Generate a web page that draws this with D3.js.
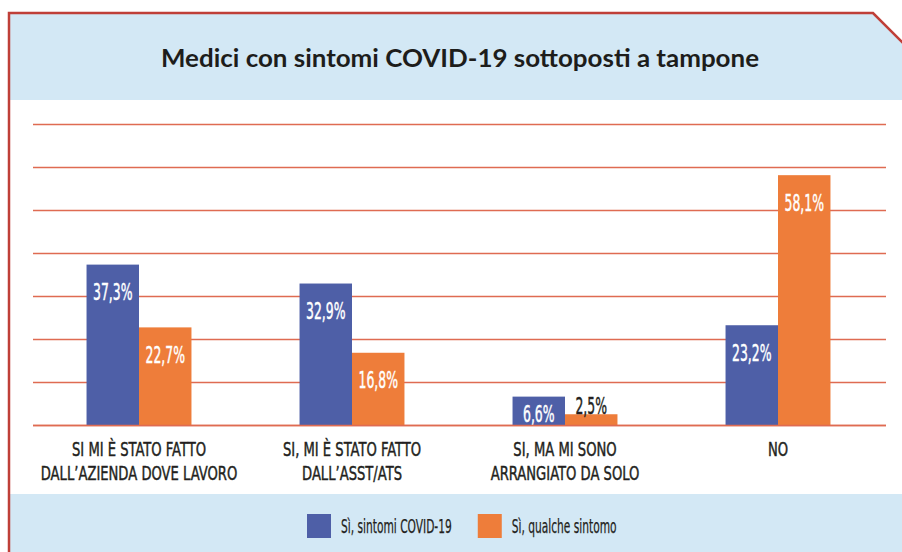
<!DOCTYPE html>
<html>
<head>
<meta charset="utf-8">
<script src="https://cdn.jsdelivr.net/npm/d3@7"></script>
<style>
  html, body { margin: 0; padding: 0; background: #ffffff; }
  svg { display: block; }
</style>
</head>
<body>
<svg id="chart" width="902" height="552"></svg>
<script>
// ---- data ----
const title = "Medici con sintomi COVID-19 sottoposti a tampone";
const categories = ["azienda", "asst", "solo", "no"];
const categoryLabels = [
  ["SI MI È STATO FATTO", "DALL’AZIENDA DOVE LAVORO"],
  ["SI, MI È STATO FATTO", "DALL’ASST/ATS"],
  ["SI, MA MI SONO", "ARRANGIATO DA SOLO"],
  ["NO"]
];
const seriesNames = ["Sì, sintomi COVID-19", "Sì, qualche sintomo"];
const covidValues = [37.3, 32.9, 6.6, 23.2];
const someSymptomValues = [22.7, 16.8, 2.5, 58.1];
const yTicks = [0, 10, 20, 30, 40, 50, 60, 70];

// ---- styles ----
const colors = ["#4e5fa7", "#ee7d3a"];
const lightBlue = "#d3e8f5";
const borderRed = "#bf3f38";
const gridColor = "#df6b52";
const condFont = "'Liberation Sans Narrow', 'DejaVu Sans Condensed', 'Roboto Condensed', 'Arial Narrow', sans-serif";

const svg = d3.select("#chart");
const W = 902, H = 552;

// backgrounds
svg.append("rect").attr("x", 0).attr("y", 0).attr("width", W).attr("height", H).attr("fill", "#ffffff");
svg.append("path")
  .attr("d", "M9,13 L873,13 L902,42 L902,100 L9,100 Z")
  .attr("fill", lightBlue);
svg.append("rect").attr("x", 9).attr("y", 494).attr("width", W - 9).attr("height", H - 494).attr("fill", lightBlue);

// border
svg.append("path")
  .attr("d", "M9,552 L9,13 L873,13 L903,43")
  .attr("fill", "none").attr("stroke", borderRed).attr("stroke-width", 2.5);

// title
svg.append("text")
  .attr("x", 460).attr("y", 67)
  .attr("text-anchor", "middle")
  .attr("font-family", "Lato, 'Open Sans', sans-serif")
  .attr("font-weight", 700)
  .attr("font-size", 24)
  .attr("fill", "#1d1d1b")
  .attr("textLength", 598)
  .attr("lengthAdjust", "spacingAndGlyphs")
  .text(title);

// scales
const x0 = d3.scaleBand().domain(categories).range([32.5, 884.5]).padding(0);
const x1 = d3.scaleBand().domain([0, 1]).range([0, x0.bandwidth()]).paddingInner(0).paddingOuter(1.03);
const y = d3.scaleLinear().domain([0, 70]).range([425, 124]);

// gridlines
const grid = svg.append("g").attr("transform", "translate(33,0)")
  .call(d3.axisLeft(y).tickValues(yTicks).tickSize(-853).tickFormat(""));
grid.select(".domain").remove();
grid.selectAll(".tick line").attr("stroke", gridColor).attr("stroke-width", 1.6);

// helper to condense text horizontally; returns final lengths
function condense(sel, factor) {
  const out = [];
  sel.each(function () {
    const len = this.getComputedTextLength();
    if (len > 0) {
      d3.select(this).attr("textLength", len * factor).attr("lengthAdjust", "spacingAndGlyphs");
    }
    out.push(len * factor);
  });
  return out;
}

// bars
const rows = categories.map((c, i) => ({ cat: c, vals: [covidValues[i], someSymptomValues[i]] }));
const fmt = v => d3.format(".1f")(v).replace(".", ",") + "%";

const groups = svg.append("g").selectAll("g").data(rows).join("g")
  .attr("transform", d => `translate(${x0(d.cat)},0)`);

groups.selectAll("rect").data(d => d.vals.map((v, s) => ({ v, s }))).join("rect")
  .attr("x", d => x1(d.s))
  .attr("y", d => y(d.v))
  .attr("width", x1.bandwidth())
  .attr("height", d => y(0) - y(d.v))
  .attr("fill", d => colors[d.s]);

const valueLabels = groups.selectAll("text.val").data(d => d.vals.map((v, s) => ({ v, s }))).join("text")
  .attr("class", "val")
  .attr("x", d => x1(d.s) + x1.bandwidth() / 2)
  .attr("y", d => {
    const h = y(0) - y(d.v);
    if (h >= 40) return y(d.v) + 35.5;
    if (h >= 22) return y(0) - 3;
    return y(d.v) - 0.5;
  })
  .attr("text-anchor", "middle")
  .attr("font-family", condFont)
  .attr("font-size", 23)
  .attr("fill", d => (y(0) - y(d.v) >= 22 ? "#ffffff" : "#231f20"))
  .attr("stroke", d => (y(0) - y(d.v) >= 22 ? "#ffffff" : "#231f20"))
  .attr("stroke-width", 0.45)
  .text(d => fmt(d.v));
condense(valueLabels, 0.6);

// x axis category labels
const xAxis = svg.append("g").attr("transform", "translate(0,425)")
  .call(d3.axisBottom(x0).tickSize(0).tickFormat(""));
xAxis.select(".domain").attr("stroke", gridColor).attr("stroke-width", 1.6)
  .attr("d", `M${33},0.5H${886}`);

xAxis.selectAll(".tick").each(function (d, i) {
  const tick = d3.select(this);
  categoryLabels[i].forEach((line, k) => {
    const t = tick.append("text")
      .attr("x", 0).attr("y", 30.5 + k * 24.5)
      .attr("text-anchor", "middle")
      .attr("font-family", condFont)
      .attr("font-size", 20)
      .attr("fill", "#231f20")
      .attr("stroke", "#231f20")
      .attr("stroke-width", 0.45)
      .text(line);
    condense(t, 0.73);
  });
});

// legend
const legend = svg.append("g").attr("class", "legend");
let lx = 307;
seriesNames.forEach((name, i) => {
  legend.append("rect").attr("x", lx).attr("y", 514).attr("width", 24).attr("height", 24).attr("fill", colors[i]);
  const t = legend.append("text").attr("x", lx + 34).attr("y", 533)
    .attr("font-family", condFont).attr("font-size", 19.5).attr("fill", "#231f20")
    .attr("stroke", "#231f20").attr("stroke-width", 0.25).text(name);
  const w = condense(t, 0.607)[0];
  lx = lx + 34 + w + 26;
});
</script>
</body>
</html>
